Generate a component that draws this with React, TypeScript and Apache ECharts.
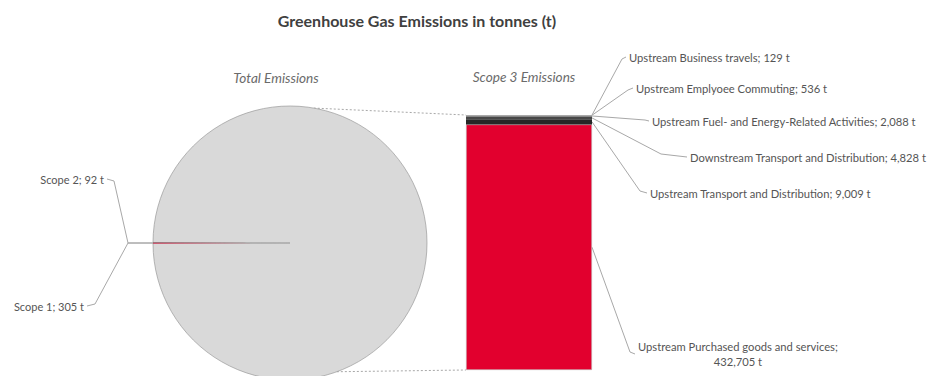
import { useEffect, useRef } from "react";
import * as echarts from "echarts";

// Headings
const chartTitle = "Greenhouse Gas Emissions in tonnes (t)";
const totalTitle = "Total Emissions";
const scope3Title = "Scope 3 Emissions";
const unitLabel = "t";

// Scope 3 breakdown, bottom of the stack first
const scope3Categories = [
  "Upstream Purchased goods and services",
  "Upstream Transport and Distribution",
  "Downstream Transport and Distribution",
  "Upstream Fuel- and Energy-Related Activities",
  "Upstream Emplyoee Commuting",
  "Upstream Business travels",
];
const scope3Values = [432705, 9009, 4828, 2088, 536, 129];
const scope3Total = scope3Values.reduce((a, b) => a + b, 0);

// Total emissions; the Scope 3 slice is the sum of the breakdown above
const totalCategories = ["Scope 3", "Scope 1", "Scope 2"];
const totalValues = [scope3Total, 305, 92];

// Styling
const scope3Colors = ["#e2002e", "#262626", "#474747", "#707070", "#9c9c9c", "#c2c2c2"];
const totalColors = ["#d9d9d9", "#e2002e", "#3a3a3a"];
const FONT = "Lato, 'Open Sans', sans-serif";
const TEXT_COLOR = "#555555";
const LEADER_COLOR = "#a8a8a8";

// Layout (pixels)
const PIE = { cx: 290, cy: 243, r: 137 };
const GRID = { left: 466, top: 115, width: 126, height: 255 };

// Bar labels: left edge / vertical middle of the text block, and the bend of its leader
const scope3LabelPlacement: { x: number; y: number; elbow: number[] }[] = [
  { x: 638, y: 354, elbow: [630, 352] },
  { x: 650, y: 193, elbow: [640, 191] },
  { x: 690, y: 157, elbow: [661, 154] },
  { x: 652, y: 121, elbow: [645, 120] },
  { x: 636, y: 88, elbow: [628, 90] },
  { x: 629, y: 57, elbow: [622, 59] },
];

// Pie labels: right edge / vertical middle of the text, and the bend of its leader
const totalLabelPlacement: Record<number, { x: number; y: number; elbow: number[] }> = {
  1: { x: 84, y: 306, elbow: [95, 304] },
  2: { x: 104, y: 179, elbow: [114, 181] },
};

const fmt = (v: number) => v.toLocaleString("en-US");

export default function App() {
  const ref = useRef<HTMLDivElement>(null);

  useEffect(() => {
    document.body.style.margin = "0";
    if (!ref.current) return;
    const chart = echarts.init(ref.current, undefined, { renderer: "svg" });

    // Tiny slices centred on the 9 o'clock position
    const smallShare = ((totalValues[1] + totalValues[2]) / totalValues.reduce((a, b) => a + b, 0)) * 360;
    const startAngle = 180 - smallShare / 2;

    const pieSeries = {
      type: "pie",
      center: [PIE.cx, PIE.cy],
      radius: PIE.r,
      startAngle,
      clockwise: true,
      avoidLabelOverlap: false,
      silent: true,
      data: totalCategories.map((name, i) => ({
        name,
        value: totalValues[i],
        itemStyle:
          i === 0
            ? { color: totalColors[i], borderColor: "#999999", borderWidth: 0.7 }
            : { color: totalColors[i], borderWidth: 0 },
        label: { show: i !== 0 },
        labelLine: { show: i !== 0 },
      })),
      label: {
        position: "outside",
        fontFamily: FONT,
        fontSize: 11,
        color: TEXT_COLOR,
        formatter: (p: any) => `${p.name}; ${fmt(p.value)} ${unitLabel}`,
      },
      labelLine: {
        length: 25,
        length2: 8,
        lineStyle: { color: LEADER_COLOR, width: 1 },
      },
      labelLayout: (p: any) => {
        const place = totalLabelPlacement[p.dataIndex];
        if (!place) return {};
        const edge = [PIE.cx - PIE.r, PIE.cy];
        const junction = [edge[0] - 25, PIE.cy];
        return {
          x: place.x,
          y: place.y,
          align: "right",
          verticalAlign: "middle",
          labelLinePoints: [edge, junction, place.elbow, [place.x + 3, place.y]],
        };
      },
    };

    const barSeries = scope3Categories.map((name, i) => ({
      type: "bar",
      name,
      stack: "scope3",
      barWidth: "100%",
      silent: true,
      data: [scope3Values[i]],
      itemStyle:
        i === 0
          ? { color: scope3Colors[i], borderColor: "#bdbdbd", borderWidth: 0.6 }
          : { color: scope3Colors[i] },
      label: {
        show: true,
        position: "right",
        fontFamily: FONT,
        fontSize: 11.2,
        lineHeight: 15,
        color: TEXT_COLOR,
        align: i === 0 ? "center" : "left",
        formatter: (p: any) =>
          i === 0
            ? `${p.seriesName};\n${fmt(p.value)} ${unitLabel}`
            : `${p.seriesName}; ${fmt(p.value)} ${unitLabel}`,
      },
      labelLine: { show: false },
      labelLayout: (p: any) => {
        const place = scope3LabelPlacement[i];
        if (i === 0) {
          return { x: place.x + p.labelRect.width / 2, y: place.y, align: "center", verticalAlign: "middle" };
        }
        return { x: place.x, y: place.y, align: "left", verticalAlign: "middle" };
      },
    }));

    chart.setOption({
      animation: false,
      grid: { left: GRID.left, top: GRID.top, width: GRID.width, height: GRID.height },
      xAxis: { type: "category", data: [scope3Title], show: false },
      yAxis: { type: "value", min: 0, max: scope3Total, show: false },
      series: [pieSeries, ...barSeries],
    });

    // Leaders from the middle of each stack segment to its label
    const barRight = GRID.left + GRID.width;
    let below = 0;
    const leaders = scope3Values.map((v, i) => {
      const mid = chart.convertToPixel({ yAxisIndex: 0 }, below + v / 2) as number;
      below += v;
      const place = scope3LabelPlacement[i];
      return {
        type: "polyline",
        silent: true,
        shape: { points: [[barRight, mid], place.elbow, [place.x - 3, place.y]] },
        style: { stroke: LEADER_COLOR, lineWidth: 1, fill: null },
      };
    });

    // Dashed connectors from the pie to the Scope 3 stack
    const barTopY = chart.convertToPixel({ yAxisIndex: 0 }, scope3Total) as number;
    const barBottomY = chart.convertToPixel({ yAxisIndex: 0 }, 0) as number;
    const onPie = (deg: number) => [
      PIE.cx + PIE.r * Math.cos((deg * Math.PI) / 180),
      PIE.cy - PIE.r * Math.sin((deg * Math.PI) / 180),
    ];
    const [tx, ty] = onPie(80);
    const [bx, by] = onPie(-70);
    const connectorStyle = { stroke: "#a8a8a8", lineWidth: 1, lineDash: [2, 2] };

    const heading = (text: string, x: number, y: number, extra: any) => ({
      type: "text",
      x,
      y,
      silent: true,
      style: {
        text,
        align: "center",
        verticalAlign: "middle",
        fontFamily: FONT,
        ...extra,
      },
    });

    chart.setOption({
      graphic: {
        elements: [
          heading(chartTitle, 417, 20, { fontSize: 16, fontWeight: "bold", fill: "#404040" }),
          heading(totalTitle, 276, 78, { fontSize: 13.6, fontStyle: "italic", fill: "#6b6b6b" }),
          heading(scope3Title, 524, 77, { fontSize: 13.6, fontStyle: "italic", fill: "#6b6b6b" }),
          ...leaders,
          { type: "line", silent: true, shape: { x1: tx, y1: ty, x2: GRID.left, y2: barTopY }, style: connectorStyle },
          { type: "line", silent: true, shape: { x1: bx, y1: by, x2: GRID.left, y2: barBottomY }, style: connectorStyle },
        ],
      },
    });

    return () => chart.dispose();
  }, []);

  return <div ref={ref} style={{ width: 929, height: 376 }} />;
}
